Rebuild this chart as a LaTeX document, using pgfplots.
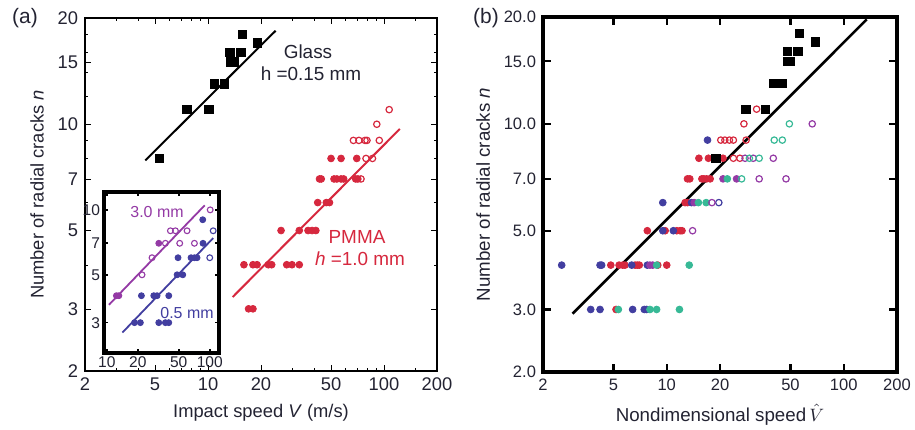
\documentclass[border=0pt]{standalone}
\usepackage{fontspec}
\setmainfont{Liberation Sans}
\usepackage{pgfplots}
\pgfplotsset{compat=1.18}

\definecolor{pred}{RGB}{214,40,62}
\definecolor{pblue}{RGB}{66,62,160}
\definecolor{ppurp}{RGB}{148,58,165}
\definecolor{pteal}{RGB}{55,185,150}
\definecolor{txtdark}{RGB}{35,35,50}

\tikzset{
  fdot/.style={only marks, mark=*, mark size=1.7bp, mark options={draw=#1, fill=#1}},
  odot/.style={only marks, mark=o, mark size=1.6bp, mark options={draw=#1, fill=white, line width=0.6bp}},
  sq/.style={only marks, mark=square*, mark size=2.1bp, mark options={draw=black, fill=black}},
}

\begin{document}
\begin{tikzpicture}
\path[use as bounding box] (0bp,0bp) rectangle (457.5bp,-215bp);

% ---- panel (a)
\begin{axis}[
  xmode=log, ymode=log, scale only axis,
  at={(42.5bp,-185.5bp)}, anchor=south west,
  width=176bp, height=176.5bp,
  xmin=2, xmax=200, ymin=2, ymax=20,
  xtick={2,5,10,20,50,100,200}, xticklabels={2,5,10,20,50,100,200},
  ytick={2,3,5,7,10,15,20}, yticklabels={2,3,5,7,10,15,20},
  minor xtick={3,4,6,7,8,9,30,40,60,70,80,90,150},
  minor ytick={4,6,8,9,12,14,16,18},
  tick align=inside, tick style={black},
  major tick length=3bp, minor tick length=1.6bp,
  axis line style={line width=1bp},
  ticklabel style={font=\fontsize{9.2}{10}\selectfont, text=txtdark},
  label style={font=\fontsize{9.2}{11}\selectfont, text=txtdark},
  xlabel={Impact speed \textit{V} (m/s)},
  ylabel={Number of radial cracks \textit{n}},
]
  % glass
  \addplot[sq] coordinates {(15.7,18)(19.1,17)(13.3,16)(15.4,16)(13.4,15)(14.0,15)
    (10.9,13)(12.4,13)(7.6,11)(10.1,11)(5.3,8)};
  \addplot[black, line width=1bp] coordinates {(4.4,7.9)(24.2,18.4)};
  % PMMA
  \addplot[fdot=pred] coordinates {(50,8)(57,8)(70,8)
    (43,7)(44,7)(52,7)(54,7)(57,7)(59,7)(69,7)(71,7)
    (42,6)(47,6)(49,6)
    (26,5)(33,5)(37,5)(39,5)(41,5)
    (16,4)(18,4)(19,4)(22,4)(23,4)(28,4)(30,4)(33,4)
    (17,3)(18,3)};
  \addplot[odot=pred] coordinates {(107,11)(91,10)(67,9)(72,9)(78,9)(80,9)(94,9)
    (79,8)(86,8)(74,7)};
  \addplot[pred, line width=1bp] coordinates {(13.8,3.24)(123,9.7)};
\end{axis}

% ---- inset
\begin{axis}[
  xmode=log, ymode=log, scale only axis,
  at={(52bp,-176.5bp)}, anchor=south west,
  width=57.5bp, height=80.5bp,
  xmin=9.4, xmax=123, ymin=2.17, ymax=12.1,
  xtick={10,20,50,100}, xticklabels={10,20,50,100},
  ytick={3,5,7,10}, yticklabels={3,5,7,10},
  tick align=inside, major tick length=2.2bp,
  minor xtick={}, minor ytick={},
  axis line style={line width=1.9bp},
  tick style={black, line width=0.8bp},
  ticklabel style={font=\fontsize{7.8}{8}\selectfont, text=txtdark},
  xticklabel style={yshift=1.5bp}, yticklabel style={xshift=1.5bp},
  axis background/.style={fill=white},
]
  \addplot[only marks, mark=*, mark size=1.5bp, mark options={draw=ppurp, fill=ppurp}]
    coordinates {(32,7)(12.4,4)(13.1,4)};
  \addplot[only marks, mark=o, mark size=1.45bp, mark options={draw=ppurp, fill=white, line width=0.55bp}]
    coordinates {(101,10)(41.5,8)(46.4,8)(60.2,8)(37.1,7)(51.1,7)(71.0,7)(27.5,6)(22,5)};
  \addplot[only marks, mark=*, mark size=1.5bp, mark options={draw=pblue, fill=pblue}]
    coordinates {(85.5,9)(86,7)(49.2,6)(65.8,6)(71.0,6)(75.3,6)(48.2,5)(54.7,5)
    (21.7,4)(28.6,4)(30.8,4)(40.0,4)(18.6,3)(21.2,3)(32.0,3)(37.1,3)(40.0,3)};
  \addplot[only marks, mark=o, mark size=1.45bp, mark options={draw=pblue, fill=white, line width=0.55bp}]
    coordinates {(108,8)(100,6)};
  \addplot[ppurp, line width=0.9bp] coordinates {(10.5,3.63)(89.4,10.5)};
  \addplot[pblue, line width=0.9bp] coordinates {(14.2,2.70)(108,7.4)};
\end{axis}

% ---- panel (b)
\begin{axis}[
  xmode=log, ymode=log, scale only axis,
  at={(271.5bp,-186bp)}, anchor=south west,
  width=177bp, height=177.5bp,
  xmin=2, xmax=200, ymin=2, ymax=20,
  xtick={2,5,10,20,50,100,200}, xticklabels={2,5,10,20,50,100,200},
  ytick={2,3,5,7,10,15,20}, yticklabels={2.0,3.0,5.0,7.0,10.0,15.0,20.0},
  minor xtick={}, minor ytick={},
  tick align=inside, tick style={black, line width=1.1bp},
  major tick length=4bp,
  axis line style={line width=1.6bp},
  ticklabel style={font=\fontsize{8.3}{9}\selectfont, text=txtdark},
  label style={font=\fontsize{9.4}{11}\selectfont, text=txtdark},
  xlabel={Nondimensional speed\,$\hat{V}$},
  ylabel={Number of radial cracks \textit{n}},
]
  \addplot[fdot=pred] coordinates {(15.2,8)(17.2,8)(20.8,8)
    (13.1,7)(13.5,7)(15.8,7)(16.2,7)(16.8,7)(17.6,7)
    (12.7,6)(13.1,6)
    (7.77,5)(9.8,5)(11.4,5)(11.9,5)(12.2,5)
    (4.83,4)(5.38,4)(5.64,4)(5.81,4)(6.62,4)(6.82,4)(7.0,4)(8.9,4)(10.0,4)
    (5.17,3)};
  \addplot[fdot=pblue] coordinates {(17.0,9)(9.5,6)(13.8,6)(9.5,5)(10.9,5)
    (2.55,4)(4.20,4)(4.29,4)(6.34,4)(7.77,4)
    (3.72,3)(4.20,3)(6.42,3)(7.47,3)(7.71,3)};
  \addplot[fdot=ppurp] coordinates {(20.8,7)(24.8,7)(14.3,6)(8.04,4)(8.33,4)};
  \addplot[fdot=pteal] coordinates {(22.0,7)(15.1,6)(16.7,6)(8.77,4)(13.4,4)
    (5.33,3)(8.04,3)(8.77,3)(11.8,3)};
  \addplot[odot=pred] coordinates {(32.2,11)(27.3,10)(20.2,9)(21.3,9)(22.6,9)(23.8,9)(28.1,9)
    (23.8,8)(25.9,8)};
  \addplot[odot=pblue] coordinates {(19.7,6)};
  \addplot[odot=ppurp] coordinates {(66.4,10)(27.7,8)(30.8,8)(40.0,8)(33.3,7)(47.2,7)(18.0,6)(14.0,5)};
  \addplot[odot=pteal] coordinates {(49.3,10)(40.5,9)(45.0,9)(29.3,8)(33.3,8)(26.5,7)};
  \addplot[sq] coordinates {(56,18)(69,17)(48,16)(55,16)(48,15)(50,15)(40,13)(45,13)
    (28,11)(36,11)(19,8)};
  \addplot[black, line width=1.3bp] coordinates {(2.94,2.92)(135,19.7)};
\end{axis}

% ---- annotations
\node[font=\fontsize{10.5}{12}\selectfont, text=txtdark] at (12.5bp,-9bp) {(a)};
\node[font=\fontsize{10.5}{12}\selectfont, text=txtdark] at (243bp,-9bp) {(b)};
\node[font=\fontsize{9.5}{11}\selectfont, text=txtdark] at (154bp,-26bp) {Glass};
\node[font=\fontsize{9.5}{11}\selectfont, text=txtdark] at (155.5bp,-37bp) {h =0.15 mm};
\node[font=\fontsize{9.5}{11}\selectfont, text=pred] at (178.5bp,-118.5bp) {PMMA};
\node[font=\fontsize{9.5}{11}\selectfont, text=pred] at (180bp,-129.5bp) {\textit{h} =1.0 mm};
\node[font=\fontsize{8}{9}\selectfont, text=ppurp] at (78.5bp,-106bp) {3.0 mm};
\node[font=\fontsize{8}{9}\selectfont, text=pblue] at (93.5bp,-156.5bp) {0.5 mm};
\end{tikzpicture}
\end{document}
